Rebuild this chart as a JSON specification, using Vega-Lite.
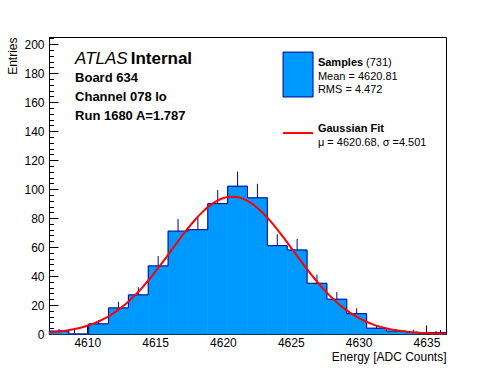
{
  "$schema": "https://vega.github.io/schema/vega-lite/v6.json",
  "width": 397,
  "height": 297,
  "autosize": "none",
  "padding": {"left": 49, "top": 37, "right": 50, "bottom": 38},
  "background": "white",
  "config": {
    "view": {"stroke": "black", "strokeWidth": 1},
    "font": "Liberation Sans",
    "axis": {
      "labelFont": "Liberation Sans", "titleFont": "Liberation Sans",
      "labelFontSize": 12, "titleFontSize": 12, "titleFontWeight": "normal",
      "labelColor": "black", "titleColor": "black", "domainColor": "black",
      "tickColor": "black", "grid": false, "labelFlush": false, "labelOverlap": false
    }
  },
  "datasets": {
    "bins": [
      {"lo": 4607.18, "hi": 4608.643, "mid": 4607.912, "count": 2, "err": 3.41},
      {"lo": 4608.643, "hi": 4610.106, "mid": 4609.375, "count": 0, "err": 0},
      {"lo": 4610.106, "hi": 4611.569, "mid": 4610.838, "count": 7, "err": 9.65},
      {"lo": 4611.569, "hi": 4613.032, "mid": 4612.301, "count": 18, "err": 22.24},
      {"lo": 4613.032, "hi": 4614.495, "mid": 4613.764, "count": 27, "err": 32.2},
      {"lo": 4614.495, "hi": 4615.958, "mid": 4615.227, "count": 47, "err": 53.86},
      {"lo": 4615.958, "hi": 4617.421, "mid": 4616.69, "count": 71, "err": 79.43},
      {"lo": 4617.421, "hi": 4618.884, "mid": 4618.153, "count": 72, "err": 80.49},
      {"lo": 4618.884, "hi": 4620.347, "mid": 4619.616, "count": 90, "err": 99.49},
      {"lo": 4620.347, "hi": 4621.81, "mid": 4621.079, "count": 102, "err": 112.1},
      {"lo": 4621.81, "hi": 4623.273, "mid": 4622.542, "count": 94, "err": 103.7},
      {"lo": 4623.273, "hi": 4624.736, "mid": 4624.005, "count": 61, "err": 68.81},
      {"lo": 4624.736, "hi": 4626.199, "mid": 4625.468, "count": 58, "err": 65.62},
      {"lo": 4626.199, "hi": 4627.662, "mid": 4626.931, "count": 35, "err": 40.92},
      {"lo": 4627.662, "hi": 4629.125, "mid": 4628.394, "count": 24, "err": 28.9},
      {"lo": 4629.125, "hi": 4630.588, "mid": 4629.857, "count": 14, "err": 17.74},
      {"lo": 4630.588, "hi": 4632.051, "mid": 4631.32, "count": 4, "err": 6},
      {"lo": 4632.051, "hi": 4633.514, "mid": 4632.783, "count": 2, "err": 3.41},
      {"lo": 4633.514, "hi": 4634.977, "mid": 4634.246, "count": 1, "err": 2},
      {"lo": 4634.977, "hi": 4636.44, "mid": 4635.709, "count": 1, "err": 2}
    ],
    "outline": [
      {"x": 4607.18, "y": 2}, {"x": 4608.643, "y": 0}, {"x": 4610.106, "y": 7},
      {"x": 4611.569, "y": 18}, {"x": 4613.032, "y": 27}, {"x": 4614.495, "y": 47},
      {"x": 4615.958, "y": 71}, {"x": 4617.421, "y": 72}, {"x": 4618.884, "y": 90},
      {"x": 4620.347, "y": 102}, {"x": 4621.81, "y": 94}, {"x": 4623.273, "y": 61},
      {"x": 4624.736, "y": 58}, {"x": 4626.199, "y": 35}, {"x": 4627.662, "y": 24},
      {"x": 4629.125, "y": 14}, {"x": 4630.588, "y": 4}, {"x": 4632.051, "y": 2},
      {"x": 4633.514, "y": 1}, {"x": 4634.977, "y": 1}, {"x": 4636.44, "y": 1}
    ],
    "fit": [
      {"x": 4607.2, "y": 1.07}, {"x": 4607.5, "y": 1.3}, {"x": 4608, "y": 1.79},
      {"x": 4608.5, "y": 2.44}, {"x": 4609, "y": 3.27}, {"x": 4609.5, "y": 4.34},
      {"x": 4610, "y": 5.68}, {"x": 4610.5, "y": 7.35}, {"x": 4611, "y": 9.39},
      {"x": 4611.5, "y": 11.84}, {"x": 4612, "y": 14.76}, {"x": 4612.5, "y": 18.18},
      {"x": 4613, "y": 22.11}, {"x": 4613.5, "y": 26.56}, {"x": 4614, "y": 31.52},
      {"x": 4614.5, "y": 36.93}, {"x": 4615, "y": 42.76}, {"x": 4615.5, "y": 48.89},
      {"x": 4616, "y": 55.22}, {"x": 4616.5, "y": 61.59}, {"x": 4617, "y": 67.87},
      {"x": 4617.5, "y": 73.86}, {"x": 4618, "y": 79.4}, {"x": 4618.5, "y": 84.31},
      {"x": 4619, "y": 88.42}, {"x": 4619.5, "y": 91.6}, {"x": 4620, "y": 93.72},
      {"x": 4620.5, "y": 94.72}, {"x": 4621, "y": 94.56}, {"x": 4621.5, "y": 93.24},
      {"x": 4622, "y": 90.81}, {"x": 4622.5, "y": 87.36}, {"x": 4623, "y": 83.01},
      {"x": 4623.5, "y": 77.9}, {"x": 4624, "y": 72.22}, {"x": 4624.5, "y": 66.13},
      {"x": 4625, "y": 59.81}, {"x": 4625.5, "y": 53.43}, {"x": 4626, "y": 47.15},
      {"x": 4626.5, "y": 41.09}, {"x": 4627, "y": 35.38}, {"x": 4627.5, "y": 30.08},
      {"x": 4628, "y": 25.26}, {"x": 4628.5, "y": 20.96}, {"x": 4629, "y": 17.17},
      {"x": 4629.5, "y": 13.9}, {"x": 4630, "y": 11.11}, {"x": 4630.5, "y": 8.78},
      {"x": 4631, "y": 6.84}, {"x": 4631.5, "y": 5.27}, {"x": 4632, "y": 4.01},
      {"x": 4632.5, "y": 3.01}, {"x": 4633, "y": 2.24}, {"x": 4633.5, "y": 1.64},
      {"x": 4634, "y": 1.19}, {"x": 4634.5, "y": 0.85}, {"x": 4635, "y": 0.6},
      {"x": 4635.5, "y": 0.42}, {"x": 4636, "y": 0.29}, {"x": 4636.4, "y": 0.21}
    ]
  },
  "layer": [
    {
      "data": {"name": "bins"},
      "mark": {"type": "rect", "color": "#0099ff", "stroke": "#0099ff", "strokeWidth": 0.7},
      "encoding": {
        "x": {"field": "lo", "type": "quantitative",
              "scale": {"domain": [4607.18, 4636.44], "nice": false, "zero": false},
              "axis": {"orient": "bottom", "values": [4610, 4615, 4620, 4625, 4630, 4635], "format": "d",
                       "tickSize": -9, "labelPadding": 12, "title": "Energy [ADC Counts]",
                       "titleAnchor": "end", "titlePadding": 3}},
        "x2": {"field": "hi"},
        "y": {"field": "count", "type": "quantitative",
              "scale": {"domain": [0, 205], "nice": false, "zero": true},
              "axis": {"orient": "left", "values": [0, 20, 40, 60, 80, 100, 120, 140, 160, 180, 200],
                       "tickSize": -9, "labelPadding": 14, "title": "Entries",
                       "titleAnchor": "end", "titlePadding": 4}},
        "y2": {"datum": 0}
      }
    },
    {
      "data": {"name": "outline"},
      "mark": {"type": "line", "interpolate": "step-after", "color": "#000099", "strokeWidth": 1},
      "encoding": {
        "x": {"field": "x", "type": "quantitative", "scale": {"domain": [4607.18, 4636.44], "nice": false, "zero": false}, "axis": null},
        "y": {"field": "y", "type": "quantitative", "scale": {"domain": [0, 205], "nice": false}, "axis": null}
      }
    },
    {
      "data": {"name": "bins"},
      "mark": {"type": "rule", "color": "#000099", "strokeWidth": 1},
      "encoding": {
        "x": {"field": "mid", "type": "quantitative",
              "scale": {"domain": [4607.18, 4636.44], "nice": false, "zero": false},
              "axis": {"orient": "bottom", "values": [4608, 4609, 4610, 4611, 4612, 4613, 4614, 4615, 4616, 4617, 4618, 4619, 4620, 4621, 4622, 4623, 4624, 4625, 4626, 4627, 4628, 4629, 4630, 4631, 4632, 4633, 4634, 4635, 4636],
                       "tickSize": -4.5, "labels": false, "domain": false, "title": null}},
        "y": {"field": "count", "type": "quantitative",
              "scale": {"domain": [0, 205], "nice": false},
              "axis": {"orient": "left", "values": [0, 4, 8, 12, 16, 20, 24, 28, 32, 36, 40, 44, 48, 52, 56, 60, 64, 68, 72, 76, 80, 84, 88, 92, 96, 100, 104, 108, 112, 116, 120, 124, 128, 132, 136, 140, 144, 148, 152, 156, 160, 164, 168, 172, 176, 180, 184, 188, 192, 196, 200, 204],
                       "tickSize": -4.5, "labels": false, "domain": false, "title": null}},
        "y2": {"field": "err"}
      }
    },
    {
      "data": {"name": "fit"},
      "mark": {"type": "line", "color": "#ff0000", "strokeWidth": 2, "interpolate": "monotone"},
      "encoding": {
        "x": {"field": "x", "type": "quantitative", "scale": {"domain": [4607.18, 4636.44], "nice": false, "zero": false}, "axis": null},
        "y": {"field": "y", "type": "quantitative", "scale": {"domain": [0, 205], "nice": false}, "axis": null}
      }
    },
    {
      "data": {"values": [{"x": 4609.1, "y": 186.4, "t": "ATLAS"}]},
      "mark": {"type": "text", "align": "left", "baseline": "alphabetic", "font": "Liberation Sans", "fontSize": 17, "fontStyle": "italic", "color": "black"},
      "encoding": {
        "x": {"field": "x", "type": "quantitative", "scale": {"domain": [4607.18, 4636.44], "nice": false, "zero": false}, "axis": null},
        "y": {"field": "y", "type": "quantitative", "scale": {"domain": [0, 205], "nice": false}, "axis": null},
        "text": {"field": "t"}
      }
    },
    {
      "data": {"values": [{"x": 4613.2, "y": 186.4, "t": "Internal"}]},
      "mark": {"type": "text", "align": "left", "baseline": "alphabetic", "font": "Liberation Sans", "fontSize": 17, "fontWeight": "bold", "color": "black"},
      "encoding": {
        "x": {"field": "x", "type": "quantitative", "scale": {"domain": [4607.18, 4636.44], "nice": false, "zero": false}, "axis": null},
        "y": {"field": "y", "type": "quantitative", "scale": {"domain": [0, 205], "nice": false}, "axis": null},
        "text": {"field": "t"}
      }
    },
    {
      "data": {"values": [
        {"x": 4609.1, "y": 174.0, "t": "Board 634"},
        {"x": 4609.1, "y": 160.9, "t": "Channel 078 lo"},
        {"x": 4609.1, "y": 147.8, "t": "Run 1680 A=1.787"}
      ]},
      "mark": {"type": "text", "align": "left", "baseline": "alphabetic", "font": "Liberation Sans", "fontSize": 13, "fontWeight": "bold", "color": "black"},
      "encoding": {
        "x": {"field": "x", "type": "quantitative", "scale": {"domain": [4607.18, 4636.44], "nice": false, "zero": false}, "axis": null},
        "y": {"field": "y", "type": "quantitative", "scale": {"domain": [0, 205], "nice": false}, "axis": null},
        "text": {"field": "t"}
      }
    },
    {
      "data": {"values": [{"x1": 4624.43, "x2": 4626.64, "y1": 194.6, "y2": 163.6}]},
      "mark": {"type": "rect", "fill": "#0099ff", "stroke": "#000099", "strokeWidth": 1},
      "encoding": {
        "x": {"field": "x1", "type": "quantitative", "scale": {"domain": [4607.18, 4636.44], "nice": false, "zero": false}, "axis": null},
        "x2": {"field": "x2"},
        "y": {"field": "y1", "type": "quantitative", "scale": {"domain": [0, 205], "nice": false}, "axis": null},
        "y2": {"field": "y2"}
      }
    },
    {
      "data": {"values": [{"x1": 4624.43, "x2": 4626.64, "y": 138.7}]},
      "mark": {"type": "rule", "color": "#ff0000", "strokeWidth": 2},
      "encoding": {
        "x": {"field": "x1", "type": "quantitative", "scale": {"domain": [4607.18, 4636.44], "nice": false, "zero": false}, "axis": null},
        "x2": {"field": "x2"},
        "y": {"field": "y", "type": "quantitative", "scale": {"domain": [0, 205], "nice": false}, "axis": null}
      }
    },
    {
      "data": {"values": [
        {"x": 4627.0, "y": 185.0, "t": "Samples"},
        {"x": 4627.0, "y": 139.4, "t": "Gaussian Fit"}
      ]},
      "mark": {"type": "text", "align": "left", "baseline": "alphabetic", "font": "Liberation Sans", "fontSize": 11, "fontWeight": "bold", "color": "black"},
      "encoding": {
        "x": {"field": "x", "type": "quantitative", "scale": {"domain": [4607.18, 4636.44], "nice": false, "zero": false}, "axis": null},
        "y": {"field": "y", "type": "quantitative", "scale": {"domain": [0, 205], "nice": false}, "axis": null},
        "text": {"field": "t"}
      }
    },
    {
      "data": {"values": [
        {"x": 4630.55, "y": 185.0, "t": "(731)"},
        {"x": 4627.0, "y": 175.3, "t": "Mean = 4620.81"},
        {"x": 4627.0, "y": 166.3, "t": "RMS = 4.472"},
        {"x": 4627.0, "y": 129.8, "t": "μ = 4620.68, σ =4.501"}
      ]},
      "mark": {"type": "text", "align": "left", "baseline": "alphabetic", "font": "Liberation Sans", "fontSize": 11, "color": "black"},
      "encoding": {
        "x": {"field": "x", "type": "quantitative", "scale": {"domain": [4607.18, 4636.44], "nice": false, "zero": false}, "axis": null},
        "y": {"field": "y", "type": "quantitative", "scale": {"domain": [0, 205], "nice": false}, "axis": null},
        "text": {"field": "t"}
      }
    }
  ],
  "resolve": {"axis": {"x": "independent", "y": "independent"}}
}
